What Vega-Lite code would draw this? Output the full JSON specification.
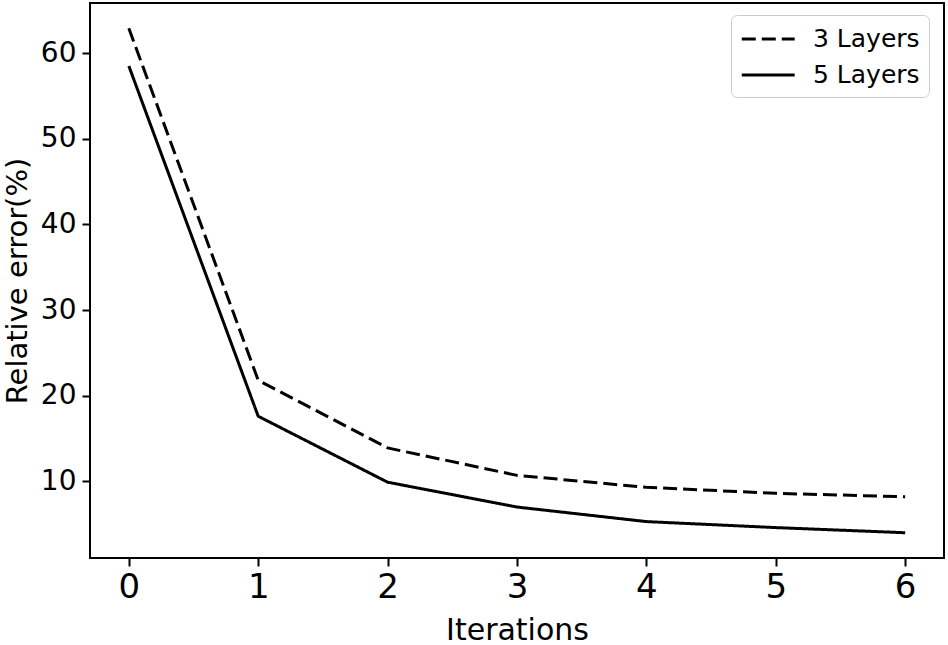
{
  "$schema": "https://vega.github.io/schema/vega-lite/v6.json",
  "width": 854,
  "height": 555,
  "autosize": {"type": "none"},
  "padding": {"left": 90, "top": 3, "right": 4, "bottom": 87},
  "background": "white",
  "config": {
    "font": "DejaVu Sans",
    "view": {"stroke": "black", "strokeWidth": 2},
    "axis": {
      "grid": false,
      "domain": false,
      "tickColor": "black",
      "tickWidth": 2,
      "tickSize": 8,
      "labelColor": "black",
      "titleColor": "black",
      "titleFontWeight": "normal",
      "labelFont": "DejaVu Sans",
      "titleFont": "DejaVu Sans"
    },
    "legend": {
      "labelFont": "DejaVu Sans",
      "labelFontSize": 25,
      "labelColor": "black",
      "strokeColor": "#cccccc",
      "cornerRadius": 6,
      "fillColor": "white",
      "padding": 9,
      "rowPadding": 8,
      "symbolType": "M-1,0H3",
      "symbolSize": 700,
      "symbolStrokeWidth": 3,
      "symbolStrokeColor": "black",
      "labelOffset": 43
    }
  },
  "data": {
    "values": [
      {"iter": 0, "err": 62.9, "series": "3 Layers"},
      {"iter": 1, "err": 21.8, "series": "3 Layers"},
      {"iter": 2, "err": 13.9, "series": "3 Layers"},
      {"iter": 3, "err": 10.7, "series": "3 Layers"},
      {"iter": 4, "err": 9.3, "series": "3 Layers"},
      {"iter": 5, "err": 8.6, "series": "3 Layers"},
      {"iter": 6, "err": 8.2, "series": "3 Layers"},
      {"iter": 0, "err": 58.5, "series": "5 Layers"},
      {"iter": 1, "err": 17.6, "series": "5 Layers"},
      {"iter": 2, "err": 9.9, "series": "5 Layers"},
      {"iter": 3, "err": 7.0, "series": "5 Layers"},
      {"iter": 4, "err": 5.3, "series": "5 Layers"},
      {"iter": 5, "err": 4.6, "series": "5 Layers"},
      {"iter": 6, "err": 4.0, "series": "5 Layers"}
    ]
  },
  "mark": {"type": "line", "color": "black", "strokeWidth": 3},
  "encoding": {
    "x": {
      "field": "iter",
      "type": "quantitative",
      "scale": {"domain": [-0.3, 6.3], "nice": false, "zero": false},
      "axis": {
        "values": [0, 1, 2, 3, 4, 5, 6],
        "format": "d",
        "labelFontSize": 34,
        "labelPadding": 4,
        "title": "Iterations",
        "titleFontSize": 30,
        "titlePadding": 11
      }
    },
    "y": {
      "field": "err",
      "type": "quantitative",
      "scale": {"domain": [1.05, 65.85], "nice": false, "zero": false},
      "axis": {
        "values": [10, 20, 30, 40, 50, 60],
        "labelFontSize": 28,
        "labelPadding": 6,
        "title": "Relative error(%)",
        "titleFontSize": 29,
        "titlePadding": 8
      }
    },
    "strokeDash": {
      "field": "series",
      "type": "nominal",
      "scale": {"domain": ["3 Layers", "5 Layers"], "range": [[14, 6], [1, 0]]},
      "legend": {"title": null, "orient": "none", "legendX": 641, "legendY": 12}
    }
  }
}
